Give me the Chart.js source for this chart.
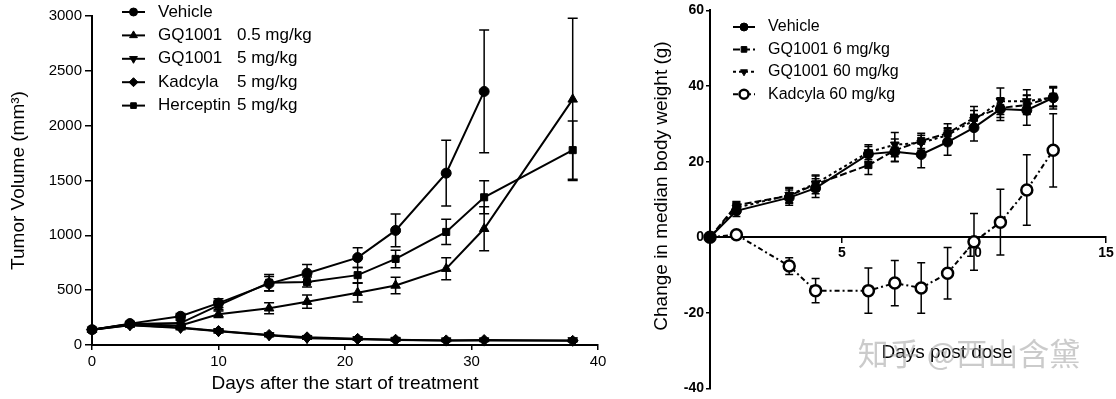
<!DOCTYPE html>
<html>
<head>
<meta charset="utf-8">
<script src="https://cdn.jsdelivr.net/npm/chart.js@4.4.0/dist/chart.umd.min.js"></script>
<style>
body { margin: 0; background: #fff; width: 1116px; height: 399px; overflow: hidden; position: relative; }
#c1 { position: absolute; left: 0; top: 0; }
#c2 { position: absolute; left: 620px; top: 0; }
</style>
</head>
<body>
<canvas id="c1" width="620" height="399"></canvas>
<canvas id="c2" width="496" height="399"></canvas>
<script>
// ---- left panel: tumor volume ----
const daysL = [0, 3, 7, 10, 14, 17, 21, 24, 28, 31, 38];
const vehicleL = [140, 195, 262, 382, 560, 655, 797, 1045, 1567, 2312];
const vehicleLErr = [15, 20, 25, 40, 65, 80, 90, 150, 300, 560];
const gq05 = [140, 190, 178, 281, 335, 395, 477, 543, 696, 1060, 2240];
const gq05Err = [15, 20, 20, 30, 50, 60, 85, 75, 100, 200, 740];
const gq5 = [140, 180, 155, 125, 88, 62, 52, 45, 40, 40, 42];
const gq5Err = [15, 15, 15, 15, 12, 10, 8, 8, 8, 8, 8];
const kad5 = [140, 183, 160, 128, 92, 70, 56, 48, 42, 45, 38];
const kad5Err = [15, 15, 15, 15, 12, 10, 8, 8, 8, 8, 8];
const herc5 = [140, 192, 200, 362, 568, 574, 637, 785, 1031, 1347, 1777];
const herc5Err = [15, 20, 25, 40, 75, 45, 70, 80, 115, 150, 265];
const namesL = ['Vehicle', 'GQ1001', 'GQ1001', 'Kadcyla', 'Herceptin'];
const dosesL = ['', '0.5 mg/kg', '5 mg/kg', '5 mg/kg', '5 mg/kg'];

// ---- right panel: body weight ----
const daysR = [0, 1, 3, 4, 6, 7, 8, 9, 10, 11, 12, 13];
const vehicleR = [0, 7, 10.5, 13, 22, 22.6, 21.9, 25.2, 29, 33.9, 33.6, 36.9];
const vehicleRErr = [0, 1.5, 2, 2.5, 2, 2.5, 3.5, 3.5, 3.5, 3, 4, 3];
const gq6 = [0, 8.5, 11, 14, 19.1, 23, 25.5, 27.5, 31.6, 34.2, 35, 37.2];
const gq6Err = [0, 1, 2, 2.5, 2.5, 3, 2, 2.5, 3, 2.5, 2.5, 2.5];
const gq60 = [0, 7.8, 11.2, 14.2, 22.5, 24.5, 25, 27, 31, 36, 36, 37];
const gq60Err = [0, 1, 2, 2, 2, 3.2, 2, 2, 2.5, 3.5, 3, 2.5];
const kad60 = [0, 0.7, -7.6, -14.1, -14.1, -12.1, -13.4, -9.5, -1.2, 4, 12.5, 23];
const kad60Err = [0, 0, 2.2, 3.2, 6, 6, 6.7, 6.8, 7.5, 8.7, 9.3, 9.7];
const labelsR = ['Vehicle', 'GQ1001 6 mg/kg', 'GQ1001 60 mg/kg', 'Kadcyla 60 mg/kg'];

Chart.defaults.font.family = '"Liberation Sans", Arial, sans-serif';
Chart.defaults.color = '#000';

const pts = (xs, ys) => ys.map((v, i) => ({ x: xs[i], y: v }));

const errorBars = {
  id: 'errorBars',
  beforeDatasetsDraw(chart) {
    const ctx = chart.ctx, ys = chart.scales.y;
    chart.data.datasets.forEach((ds, i) => {
      if (!ds.err) return;
      const meta = chart.getDatasetMeta(i);
      ctx.save();
      ctx.strokeStyle = '#000';
      ctx.lineWidth = 1.5;
      meta.data.forEach((pt, j) => {
        const e = ds.err[j];
        if (!e) return;
        const v = ds.data[j].y;
        const top = ys.getPixelForValue(v + e), bot = ys.getPixelForValue(v - e);
        const w = ds.capW;
        ctx.beginPath();
        ctx.moveTo(pt.x, top); ctx.lineTo(pt.x, bot);
        ctx.moveTo(pt.x - w, top); ctx.lineTo(pt.x + w, top);
        ctx.moveTo(pt.x - w, bot); ctx.lineTo(pt.x + w, bot);
        ctx.stroke();
      });
      ctx.restore();
    });
  }
};

function legendPlugin(o) {
  return {
    id: 'legendBox',
    afterDraw(chart) {
      const ctx = chart.ctx;
      chart.data.datasets.forEach((ds, k) => {
        const y = o.y0 + k * o.dy;
        ctx.save();
        ctx.strokeStyle = '#000';
        ctx.lineWidth = ds.borderWidth;
        ctx.setLineDash(ds.borderDash || []);
        ctx.beginPath();
        ctx.moveTo(o.x1, y); ctx.lineTo(o.x2, y);
        ctx.stroke();
        ctx.setLineDash([]);
        ctx.fillStyle = ds.pointBackgroundColor;
        ctx.strokeStyle = '#000';
        ctx.lineWidth = ds.pointBorderWidth;
        Chart.helpers.drawPoint(ctx, {
          pointStyle: ds.pointStyle, radius: ds.pointRadius - 1,
          rotation: ds.pointRotation || 0, borderWidth: ds.pointBorderWidth
        }, (o.x1 + o.x2) / 2, y);
        ctx.fillStyle = '#000';
        ctx.font = o.font;
        ctx.textBaseline = 'middle';
        ctx.fillText(o.names[k], o.tx, y);
        if (o.doses && o.doses[k]) ctx.fillText(o.doses[k], o.tx2, y);
        ctx.restore();
      });
    }
  };
}

function lineDs(data, err, style, extra) {
  return Object.assign({
    data: data, err: err, capW: 5, clip: false,
    borderColor: '#000', borderWidth: 2, tension: 0,
    pointStyle: style, pointRadius: 5.5, pointRotation: 0,
    pointBackgroundColor: '#000', pointBorderColor: '#000', pointBorderWidth: 1
  }, extra || {});
}

new Chart(document.getElementById('c1'), {
  type: 'line',
  data: {
    datasets: [
      lineDs(pts(daysL, vehicleL), vehicleLErr, 'circle', { pointRadius: 5 }),
      lineDs(pts(daysL, gq05), gq05Err, 'triangle'),
      lineDs(pts(daysL, gq5), gq5Err, 'triangle', { pointRotation: 180 }),
      lineDs(pts(daysL, kad5), kad5Err, 'rectRot'),
      lineDs(pts(daysL, herc5), herc5Err, 'rect', { pointRadius: 5 })
    ]
  },
  options: {
    responsive: false, animation: false,
    layout: { padding: { top: 16, right: 22, left: 0, bottom: 0 } },
    plugins: { legend: { display: false }, tooltip: { enabled: false } },
    scales: {
      x: {
        type: 'linear', min: 0, max: 40,
        ticks: { stepSize: 10, font: { size: 15 }, padding: 3, maxRotation: 0 },
        grid: { drawOnChartArea: false, tickLength: 5, color: '#000', lineWidth: 1.5 },
        border: { color: '#000', width: 2 },
        title: { display: true, text: 'Days after the start of treatment', font: { size: 19 }, padding: { top: 0, bottom: 4 } },
        afterFit: s => { s.height = 54; }
      },
      y: {
        min: 0, max: 3000,
        ticks: { stepSize: 500, font: { size: 15 }, padding: 3, callback: v => String(v) },
        grid: { drawOnChartArea: false, tickLength: 7, color: '#000', lineWidth: 1.5 },
        border: { color: '#000', width: 2 },
        title: { display: true, text: 'Tumor Volume (mm³)', font: { size: 19 }, padding: { top: 7 } },
        afterFit: s => { s.width = 92; }
      }
    }
  },
  plugins: [errorBars, legendPlugin({
    y0: 12, dy: 23.4, x1: 122, x2: 145, tx: 158, tx2: 237,
    names: namesL, doses: dosesL, font: '17px "Liberation Sans", Arial, sans-serif'
  })]
});

const rightTitles = {
  id: 'rightTitles',
  afterDraw(chart) {
    const ctx = chart.ctx;
    ctx.save();
    ctx.fillStyle = '#000';
    ctx.font = '19px "Liberation Sans", Arial, sans-serif';
    ctx.textAlign = 'center';
    ctx.textBaseline = 'middle';
    ctx.fillText('Days post dose', 327, 353);
    ctx.translate(42, 186);
    ctx.rotate(-Math.PI / 2);
    ctx.fillText('Change in median body weight (g)', 0, 0);
    ctx.restore();
    ctx.save();
    ctx.fillStyle = 'rgba(160,160,160,0.55)';
    ctx.font = '31px "Noto Sans CJK SC", sans-serif';
    ctx.textAlign = 'center';
    ctx.textBaseline = 'middle';
    ctx.fillText('知乎 @西山含黛', 349, 353);
    ctx.restore();
  }
};

new Chart(document.getElementById('c2'), {
  type: 'line',
  data: {
    datasets: [
      lineDs(pts(daysR, vehicleR), vehicleRErr, 'circle', { capW: 4, pointRadius: 5 }),
      lineDs(pts(daysR, gq6), gq6Err, 'rect', { capW: 4, pointRadius: 5, borderDash: [7, 3] }),
      lineDs(pts(daysR, gq60), gq60Err, 'triangle', { capW: 4, pointRadius: 5, pointRotation: 180, borderDash: [3, 3] }),
      lineDs(pts(daysR, kad60), kad60Err, 'circle', {
        capW: 4, pointRadius: 5.5, borderDash: [5, 3, 2, 3],
        pointBackgroundColor: '#fff', pointBorderWidth: 2.5
      })
    ]
  },
  options: {
    responsive: false, animation: false,
    layout: { padding: { top: 7, right: 10, left: 0, bottom: 8 } },
    plugins: { legend: { display: false }, tooltip: { enabled: false } },
    scales: {
      x: {
        type: 'linear', min: 0, max: 15, position: { y: 0 },
        ticks: { stepSize: 5, font: { size: 14, weight: 'bold' }, padding: 2, maxRotation: 0,
                 callback: v => (v === 0 ? '' : v) },
        grid: { drawOnChartArea: false, tickLength: 5, color: '#000', lineWidth: 1.5 },
        border: { color: '#000', width: 2 }
      },
      y: {
        min: -40, max: 60,
        ticks: { stepSize: 20, font: { size: 14, weight: 'bold' }, padding: 2 },
        grid: { drawOnChartArea: false, tickLength: 4, color: '#000', lineWidth: 1.5 },
        border: { color: '#000', width: 2 },
        afterFit: s => { s.width = 90; }
      }
    }
  },
  plugins: [errorBars, rightTitles, legendPlugin({
    y0: 27, dy: 22.4, x1: 113, x2: 135, tx: 148,
    names: labelsR, font: '16px "Liberation Sans", Arial, sans-serif'
  })]
});
</script>
</body>
</html>
